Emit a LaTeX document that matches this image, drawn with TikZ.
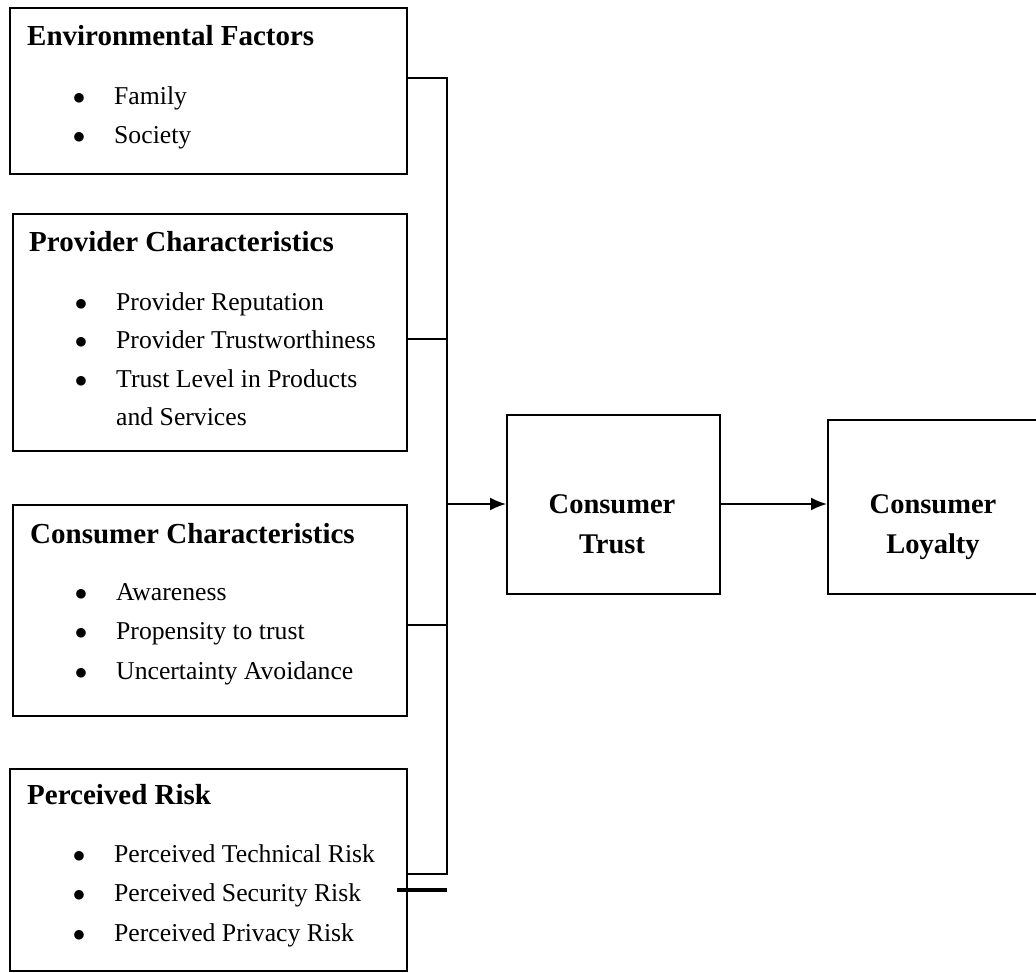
\documentclass[tikz,border=0pt]{standalone}
\usepackage{fontspec}
\setmainfont{Liberation Serif}
\usetikzlibrary{arrows.meta,positioning}
\tikzset{
    %Define standard arrow tip
    >={Latex[length=16pt,width=13pt]},
    %Define style for boxes
    factor/.style={
           rectangle,
           draw=black, line width=1.8pt,
           anchor=north west,
           inner sep=0pt},
    heading/.style={
           anchor=base west,
           inner sep=0pt,
           font=\fontsize{29}{32}\selectfont\bfseries},
    entry/.style={
           anchor=base west,
           inner sep=0pt,
           font=\fontsize{25.7}{30}\selectfont},
    boxtext/.style={
           anchor=base,
           inner sep=0pt,
           align=center,
           font=\fontsize{28.5}{40}\selectfont\bfseries},
    % Define line style
    pil/.style={
           line width=1.8pt}
}
\newcommand{\bul}{\llap{$\bullet$\hspace{29pt}}}

\begin{document}
\begin{tikzpicture}[x=1pt,y=-1pt]
\useasboundingbox (0,0) rectangle (1036,972);
 %boxes
\node[factor, minimum width=397pt, minimum height=166pt](env) at (9,7){};
\node[factor, minimum width=394pt, minimum height=237pt](prov) at (12,213){};
\node[factor, minimum width=394pt, minimum height=211pt](cons) at (12,504){};
\node[factor, minimum width=397pt, minimum height=202pt](risk) at (9,768){};
\node[factor, minimum width=213pt, minimum height=179pt](trust) at (506,414){};
\node[factor, minimum width=212pt, minimum height=174pt](loyal) at (827,419){};
 %texts
\node[heading](envh) at (27,45){Environmental Factors};
\node[entry](env1) at (114,104){\bul Family};
\node[entry](env2) at (114,143){\bul Society};
\node[heading](provh) at (29,251){Provider Characteristics};
\node[entry](prov1) at (116,310){\bul Provider Reputation};
\node[entry](prov2) at (116,348){\bul Provider Trustworthiness};
\node[entry](prov3) at (116,387){\bul Trust Level in Products};
\node[entry](prov4) at (116,425){and Services};
\node[heading](consh) at (30,543){Consumer Characteristics};
\node[entry](cons1) at (116,600){\bul Awareness};
\node[entry](cons2) at (116,639){\bul Propensity to trust};
\node[entry](cons3) at (116,679){\bul Uncertainty Avoidance};
\node[heading](riskh) at (27,804){Perceived Risk};
\node[entry](risk1) at (114,862){\bul Perceived Technical Risk};
\node[entry](risk2) at (114,901){\bul Perceived Security Risk};
\node[entry](risk3) at (114,941){\bul Perceived Privacy Risk};
\node[boxtext](trustl) at (612,553){Consumer\\Trust};
\node[boxtext](loyall) at (933,553){Consumer\\Loyalty};
 %connectors
\coordinate (top) at (447,78);
\coordinate (j2) at (447,339);
\coordinate (split) at (447,504);
\coordinate (j3) at (447,625);
\coordinate (bottom) at (447,874);
\coordinate (stub) at (397,890);
\draw[pil] (env.east |- top) -- (top) -- (bottom) -- (risk.east |- bottom);
\draw[pil] (prov.east |- j2) -- (j2);
\draw[pil] (cons.east |- j3) -- (j3);
\draw[line width=3.5pt] (stub) -- (stub -| top);
\draw[pil,->] (split) -- (split -| trust.west);
\draw[pil,->] (trust.east |- split) -- (loyal.west |- split);
\end{tikzpicture}
\end{document}
